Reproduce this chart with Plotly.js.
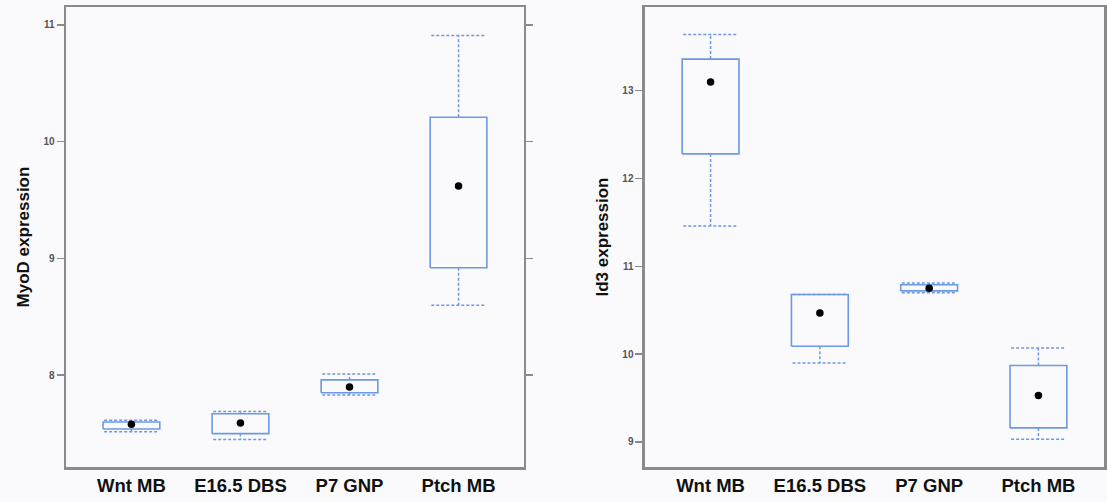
<!DOCTYPE html>
<html>
<head>
<meta charset="utf-8">
<script src="https://cdn.plot.ly/plotly-3.0.1.min.js"></script>
<style>
html,body{margin:0;padding:0;background:#fafafd;}
#chart{width:1107px;height:502px;}
</style>
</head>
<body>
<div id="chart"></div>
<script>
// ---- data ----
var categories = ['Wnt MB', 'E16.5 DBS', 'P7 GNP', 'Ptch MB'];

var myodQ1   = [7.54, 7.50, 7.85, 8.92];
var myodQ3   = [7.60, 7.67, 7.96, 10.21];
var myodLow  = [7.515, 7.45, 7.83, 8.60];
var myodHigh = [7.615, 7.69, 8.01, 10.91];
var myodMean = [7.58, 7.59, 7.90, 9.62];

var id3Q1   = [12.28, 10.09, 10.72, 9.16];
var id3Q3   = [13.36, 10.68, 10.79, 9.87];
var id3Low  = [11.46, 9.90, 10.70, 9.03];
var id3High = [13.64, 10.68, 10.81, 10.07];
var id3Mean = [13.10, 10.47, 10.75, 9.53];

var myodTicks = [8, 9, 10, 11];
var id3Ticks = [9, 10, 11, 12, 13];

// ---- style ----
var boxColor = '#6d98e3';
var halfW = 0.26;
var capW = 0.25;

function panelTraces(q1, q3, lo, hi, mean, xa, ya) {
  var bx = [], by = [], wx = [], wy = [], mx = [];
  for (var i = 0; i < categories.length; i++) {
    bx.push(i - halfW, i + halfW, i + halfW, i - halfW, i - halfW, null);
    by.push(q1[i], q1[i], q3[i], q3[i], q1[i], null);
    wx.push(i, i, null, i, i, null, i - capW, i + capW, null, i - capW, i + capW, null);
    wy.push(q3[i], hi[i], null, q1[i], lo[i], null, hi[i], hi[i], null, lo[i], lo[i], null);
    mx.push(i);
  }
  return [
    {type: 'scatter', mode: 'lines', x: wx, y: wy, xaxis: xa, yaxis: ya,
     line: {color: boxColor, width: 1.5, dash: '3px,2px'}, hoverinfo: 'skip', showlegend: false},
    {type: 'scatter', mode: 'lines', x: bx, y: by, xaxis: xa, yaxis: ya,
     line: {color: boxColor, width: 1.6}, hoverinfo: 'skip', showlegend: false},
    {type: 'scatter', mode: 'markers', x: mx, y: mean, xaxis: xa, yaxis: ya,
     marker: {color: '#000', size: 7.5}, showlegend: false}
  ];
}

var traces = panelTraces(myodQ1, myodQ3, myodLow, myodHigh, myodMean, 'x', 'y')
  .concat(panelTraces(id3Q1, id3Q3, id3Low, id3High, id3Mean, 'x2', 'y2'));

var frameColor = '#8a8a8a';
var tickIdx = categories.map(function (c, i) { return i; });

function xAxis(domain, anchor) {
  return {
    domain: domain, anchor: anchor, range: [-0.6, 3.6],
    tickmode: 'array', tickvals: tickIdx, ticktext: categories,
    ticks: '', showgrid: false, zeroline: false,
    showline: true, mirror: true, linecolor: frameColor, linewidth: 2.5,
    tickfont: {family: 'Liberation Sans, Arial, sans-serif', size: 18.5, color: '#111', weight: 'bold'},
    fixedrange: true
  };
}
function yAxis(range, ticks, anchor, title) {
  return {
    anchor: anchor, range: range, domain: [0, 1],
    tickmode: 'array', tickvals: ticks,
    ticks: 'outside', ticklen: 7, tickwidth: 1.5, tickcolor: frameColor,
    showgrid: false, zeroline: false,
    showline: true, mirror: 'ticks', linecolor: frameColor, linewidth: 2.5,
    tickfont: {family: 'Liberation Sans, Arial, sans-serif', size: 10, color: '#555', weight: 'bold'},
    title: {text: title, standoff: 10,
            font: {family: 'Liberation Sans, Arial, sans-serif', size: 17, color: '#111', weight: 'bold'}},
    fixedrange: true
  };
}

var layout = {
  width: 1107, height: 502,
  margin: {l: 66, r: 3, t: 7, b: 35},
  paper_bgcolor: '#fafafd', plot_bgcolor: '#fafafd',
  showlegend: false,
  font: {family: 'Liberation Sans, Arial, sans-serif'},
  xaxis: xAxis([0, 0.4412], 'y'),
  xaxis2: xAxis([0.5578, 1], 'y2'),
  yaxis: yAxis([7.214, 11.154], myodTicks, 'x', 'MyoD expression'),
  yaxis2: yAxis([8.715, 13.953], id3Ticks, 'x2', 'Id3 expression')
};

Plotly.newPlot('chart', traces, layout, {displayModeBar: false, staticPlot: true});
</script>
</body>
</html>
